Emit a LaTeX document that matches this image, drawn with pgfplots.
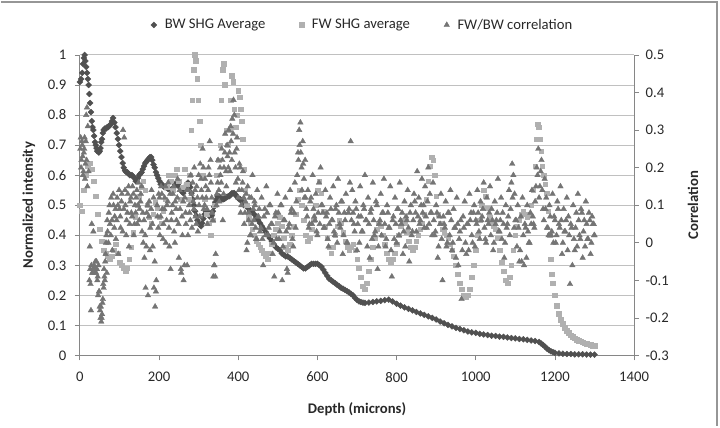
\documentclass[border=0pt]{standalone}
\usepackage{pgfplots}
\usepackage{pgfplotstable}
\pgfplotsset{compat=1.18}
\usepackage{fontspec}
\setmainfont{Carlito}

\definecolor{bwcol}{RGB}{80,80,80}
\definecolor{fwcol}{RGB}{176,176,176}
\definecolor{corcol}{RGB}{116,116,116}
\definecolor{axcol}{RGB}{134,134,134}
\definecolor{gridcol}{RGB}{192,192,192}
\definecolor{framecol}{RGB}{150,150,150}
\definecolor{txtcol}{RGB}{40,40,40}

% backward SHG, averaged and normalised
\pgfplotstableread[row sep=\\]{
x y\\
0 0.91\\ 3 0.92\\ 6 0.94\\ 8 0.97\\ 10 0.99\\ 12 1.0\\ 14 0.98\\ 16 0.96\\ 18 0.94\\ 20 0.92\\
22 0.9\\ 24 0.87\\ 26 0.84\\ 28 0.81\\ 30 0.78\\ 32 0.76\\ 34 0.75\\ 36 0.73\\ 38 0.71\\ 40 0.7\\
42 0.69\\ 44 0.68\\ 46 0.68\\ 48 0.675\\ 50 0.68\\ 52 0.69\\ 54 0.71\\ 56 0.72\\ 58 0.74\\ 60 0.75\\
63 0.755\\ 66 0.755\\ 69 0.76\\ 72 0.76\\ 75 0.765\\ 78 0.77\\ 81 0.78\\ 84 0.79\\ 87 0.775\\ 90 0.76\\
93 0.74\\ 96 0.72\\ 99 0.7\\ 102 0.68\\ 105 0.66\\ 108 0.64\\ 111 0.625\\ 114 0.615\\ 117 0.61\\ 120 0.61\\
123 0.605\\ 126 0.6\\ 129 0.6\\ 132 0.6\\ 135 0.595\\ 138 0.59\\ 141 0.58\\ 144 0.58\\ 147 0.59\\ 150 0.6\\
153 0.605\\ 156 0.61\\ 159 0.62\\ 162 0.63\\ 165 0.64\\ 168 0.645\\ 171 0.65\\ 174 0.655\\ 177 0.66\\ 180 0.66\\
183 0.65\\ 186 0.635\\ 189 0.625\\ 192 0.61\\ 195 0.6\\ 198 0.59\\ 201 0.58\\ 204 0.57\\ 207 0.57\\ 210 0.565\\
213 0.56\\ 216 0.56\\ 219 0.56\\ 222 0.555\\ 225 0.555\\ 228 0.55\\ 231 0.55\\ 234 0.555\\ 237 0.56\\ 240 0.57\\
243 0.57\\ 246 0.57\\ 249 0.565\\ 252 0.56\\ 255 0.55\\ 258 0.545\\ 261 0.54\\ 264 0.55\\ 267 0.56\\ 270 0.57\\
273 0.575\\ 276 0.57\\ 279 0.56\\ 282 0.54\\ 285 0.52\\ 288 0.5\\ 291 0.48\\ 294 0.465\\ 297 0.45\\ 300 0.44\\
303 0.435\\ 306 0.43\\ 309 0.44\\ 312 0.455\\ 315 0.47\\ 318 0.48\\ 321 0.48\\ 324 0.475\\ 327 0.465\\ 330 0.46\\
333 0.465\\ 336 0.48\\ 339 0.495\\ 342 0.51\\ 345 0.52\\ 348 0.53\\ 351 0.53\\ 354 0.525\\ 357 0.52\\ 360 0.52\\
363 0.52\\ 366 0.522\\ 369 0.525\\ 372 0.528\\ 375 0.53\\ 378 0.53\\ 381 0.535\\ 384 0.54\\ 387 0.54\\ 390 0.54\\
393 0.535\\ 396 0.53\\ 399 0.525\\ 402 0.52\\ 405 0.52\\ 408 0.515\\ 411 0.51\\ 414 0.5\\ 417 0.5\\ 420 0.5\\
425 0.49\\ 430 0.48\\ 435 0.48\\ 440 0.47\\ 445 0.46\\ 450 0.45\\ 455 0.44\\ 460 0.43\\ 465 0.42\\
470 0.41\\ 475 0.4\\ 480 0.39\\ 485 0.38\\ 490 0.37\\ 495 0.36\\ 500 0.355\\ 505 0.35\\ 510 0.34\\ 515 0.335\\
520 0.33\\ 525 0.33\\ 530 0.325\\ 535 0.32\\ 540 0.315\\ 545 0.31\\ 550 0.305\\ 555 0.3\\ 560 0.295\\ 565 0.29\\
570 0.29\\ 575 0.295\\ 580 0.3\\ 585 0.305\\ 590 0.305\\ 595 0.305\\ 600 0.305\\ 605 0.3\\ 610 0.295\\ 615 0.285\\
620 0.275\\ 625 0.265\\ 630 0.255\\ 635 0.25\\ 640 0.245\\ 645 0.24\\ 650 0.235\\ 655 0.23\\ 660 0.225\\ 665 0.222\\
670 0.218\\ 675 0.214\\ 680 0.21\\ 685 0.205\\ 690 0.2\\ 695 0.192\\ 700 0.185\\ 705 0.18\\ 710 0.178\\ 715 0.176\\
720 0.175\\ 730 0.176\\ 740 0.178\\ 750 0.18\\ 760 0.182\\ 770 0.184\\ 780 0.186\\ 790 0.18\\ 800 0.172\\ 810 0.166\\
820 0.16\\ 830 0.155\\ 840 0.15\\ 850 0.145\\ 860 0.14\\ 870 0.135\\ 880 0.13\\ 890 0.125\\ 900 0.12\\ 910 0.113\\
920 0.107\\ 930 0.102\\ 940 0.097\\ 950 0.092\\ 960 0.088\\ 970 0.084\\ 980 0.08\\ 990 0.077\\ 1000 0.075\\ 1010 0.072\\
1020 0.07\\ 1030 0.068\\ 1040 0.066\\ 1050 0.065\\ 1060 0.063\\ 1070 0.062\\ 1080 0.06\\ 1090 0.058\\ 1100 0.057\\ 1110 0.055\\
1120 0.054\\ 1130 0.052\\ 1140 0.05\\ 1150 0.048\\ 1160 0.045\\ 1165 0.04\\ 1170 0.035\\ 1175 0.029\\ 1180 0.023\\ 1185 0.018\\
1190 0.014\\ 1195 0.011\\ 1200 0.009\\ 1210 0.007\\ 1220 0.006\\ 1230 0.005\\ 1240 0.005\\ 1250 0.004\\ 1260 0.004\\ 1270 0.004\\
1280 0.003\\ 1290 0.003\\ 1300 0.003\\
}\bwdata

% forward SHG, averaged and normalised
\pgfplotstableread[row sep=\\]{
x y\\
0 0.5\\ 5 0.48\\ 10 0.55\\ 15 0.6\\ 20 0.63\\ 25 0.64\\ 30 0.62\\ 35 0.58\\ 40 0.53\\ 45 0.47\\
50 0.42\\ 55 0.38\\ 60 0.35\\ 65 0.34\\ 70 0.33\\ 75 0.32\\ 80 0.33\\ 85 0.35\\ 90 0.37\\ 95 0.34\\
100 0.31\\ 105 0.3\\ 110 0.29\\ 115 0.28\\ 120 0.29\\ 125 0.32\\ 130 0.36\\ 135 0.41\\ 140 0.46\\ 145 0.5\\
150 0.53\\ 155 0.56\\ 160 0.58\\ 165 0.55\\ 170 0.5\\ 175 0.46\\ 180 0.44\\ 185 0.47\\ 190 0.51\\ 195 0.49\\
200 0.46\\ 205 0.44\\ 210 0.48\\ 215 0.52\\ 220 0.56\\ 225 0.6\\ 230 0.58\\ 235 0.55\\ 240 0.6\\ 245 0.62\\
250 0.58\\ 255 0.52\\ 260 0.56\\ 265 0.62\\ 270 0.57\\ 275 0.52\\ 278 0.6\\ 281 0.75\\ 284 0.85\\ 287 0.95\\
290 1.0\\ 293 0.98\\ 296 0.92\\ 299 0.85\\ 302 0.78\\ 305 0.7\\ 310 0.6\\ 315 0.52\\ 320 0.47\\ 325 0.44\\
330 0.4\\ 335 0.45\\ 340 0.5\\ 345 0.6\\ 350 0.65\\ 354 0.7\\ 357 0.85\\ 360 0.95\\ 363 0.97\\ 366 0.9\\
370 0.75\\ 374 0.7\\ 378 0.75\\ 381 0.85\\ 384 0.93\\ 387 0.91\\ 390 0.82\\ 394 0.76\\ 397 0.8\\ 400 0.88\\
403 0.86\\ 406 0.82\\ 409 0.78\\ 412 0.72\\ 415 0.62\\ 418 0.55\\ 422 0.5\\ 426 0.46\\ 430 0.44\\ 435 0.42\\
440 0.4\\ 445 0.38\\ 450 0.37\\ 455 0.36\\ 460 0.35\\ 465 0.34\\ 470 0.33\\ 475 0.32\\ 480 0.34\\ 485 0.37\\
490 0.4\\ 495 0.42\\ 500 0.44\\ 505 0.46\\ 510 0.43\\ 515 0.39\\ 520 0.36\\ 525 0.35\\ 530 0.37\\ 535 0.4\\
540 0.43\\ 545 0.47\\ 550 0.52\\ 555 0.55\\ 560 0.5\\ 565 0.45\\ 570 0.4\\ 575 0.38\\ 580 0.39\\ 585 0.42\\
590 0.45\\ 595 0.5\\ 600 0.55\\ 605 0.58\\ 610 0.54\\ 615 0.48\\ 620 0.43\\ 625 0.39\\ 630 0.36\\ 635 0.34\\
640 0.36\\ 645 0.4\\ 650 0.43\\ 655 0.45\\ 660 0.44\\ 665 0.41\\ 670 0.38\\ 675 0.36\\ 680 0.35\\ 685 0.36\\
690 0.37\\ 695 0.35\\ 700 0.32\\ 705 0.29\\ 710 0.26\\ 715 0.23\\ 720 0.22\\ 725 0.24\\ 730 0.28\\ 735 0.32\\
740 0.36\\ 745 0.39\\ 750 0.42\\ 755 0.44\\ 760 0.43\\ 765 0.4\\ 770 0.37\\ 775 0.34\\ 780 0.32\\ 785 0.31\\
790 0.32\\ 795 0.34\\ 800 0.37\\ 805 0.4\\ 810 0.43\\ 815 0.45\\ 820 0.44\\ 825 0.41\\ 830 0.38\\ 835 0.36\\
840 0.35\\ 845 0.36\\ 850 0.38\\ 855 0.4\\ 860 0.42\\ 865 0.44\\ 870 0.47\\ 875 0.52\\ 880 0.58\\ 884 0.63\\
888 0.66\\ 892 0.65\\ 896 0.6\\ 900 0.53\\ 905 0.47\\ 910 0.44\\ 915 0.42\\ 920 0.41\\ 925 0.4\\ 930 0.39\\
935 0.37\\ 940 0.35\\ 945 0.33\\ 950 0.3\\ 955 0.27\\ 960 0.24\\ 965 0.22\\ 970 0.2\\ 975 0.195\\ 980 0.2\\
985 0.22\\ 990 0.26\\ 995 0.3\\ 1000 0.35\\ 1005 0.4\\ 1010 0.45\\ 1015 0.5\\ 1020 0.55\\ 1025 0.53\\ 1030 0.49\\
1035 0.46\\ 1040 0.44\\ 1045 0.43\\ 1050 0.42\\ 1055 0.39\\ 1060 0.35\\ 1065 0.31\\ 1070 0.28\\ 1075 0.25\\ 1080 0.24\\
1085 0.26\\ 1090 0.3\\ 1095 0.35\\ 1100 0.4\\ 1105 0.43\\ 1110 0.45\\ 1115 0.47\\ 1120 0.48\\ 1125 0.47\\ 1130 0.46\\
1135 0.47\\ 1140 0.5\\ 1145 0.55\\ 1150 0.63\\ 1153 0.72\\ 1156 0.77\\ 1159 0.76\\ 1162 0.72\\ 1165 0.68\\ 1168 0.63\\
1171 0.6\\ 1175 0.57\\ 1179 0.54\\ 1183 0.48\\ 1186 0.4\\ 1189 0.32\\ 1192 0.27\\ 1195 0.24\\ 1200 0.2\\ 1205 0.165\\
1210 0.14\\ 1215 0.12\\ 1220 0.105\\ 1225 0.093\\ 1230 0.083\\ 1235 0.075\\ 1240 0.068\\ 1245 0.062\\ 1250 0.057\\ 1255 0.053\\
1260 0.05\\ 1265 0.047\\ 1270 0.044\\ 1275 0.041\\ 1280 0.039\\ 1285 0.037\\ 1290 0.035\\ 1295 0.033\\ 1300 0.032\\
}\fwdata

% forward/backward correlation (secondary axis)
\pgfplotstableread[row sep=\\]{
x y\\
2 0.28\\ 4 0.22\\ 6 0.26\\ 8 0.18\\ 10 0.24\\ 12 0.28\\ 14 0.21\\ 16 0.34\\ 18 0.36\\ 20 0.31\\
22 0.19\\ 25 -0.01\\ 27 -0.11\\ 28 -0.18\\ 30 0.05\\ 32 -0.08\\ 34 0.03\\ 35 -0.07\\ 36 -0.06\\ 38 -0.08\\
40 -0.07\\ 42 -0.05\\ 44 -0.1\\ 46 -0.14\\ 48 -0.13\\ 50 -0.17\\ 52 -0.2\\ 54 -0.21\\ 56 -0.19\\ 58 -0.15\\
60 -0.12\\ 62 -0.09\\ 64 -0.05\\ 66 0.0\\ 68 -0.08\\ 70 0.03\\ 73 0.08\\ 76 0.05\\ 79 0.12\\ 82 -0.02\\
85 0.1\\ 88 0.07\\ 91 0.01\\ 94 0.12\\ 97 -0.03\\ 100 0.09\\ 103 0.04\\ 106 0.13\\ 109 0.3\\ 112 0.28\\
115 0.1\\ 118 0.06\\ 121 0.13\\ 124 -0.01\\ 127 0.11\\ 130 0.08\\ 133 0.15\\ 136 0.02\\ 139 0.1\\ 142 0.12\\
145 0.05\\ 148 0.16\\ 151 0.09\\ 154 0.13\\ 157 0.03\\ 160 0.0\\ 163 -0.04\\ 166 -0.12\\ 169 0.08\\ 172 -0.14\\
175 0.11\\ 178 0.04\\ 181 0.14\\ 184 -0.01\\ 187 -0.12\\ 190 -0.17\\ 193 -0.1\\ 196 0.07\\ 199 0.13\\ 202 0.02\\
205 0.15\\ 208 0.09\\ 211 0.05\\ 214 0.12\\ 217 0.0\\ 220 0.1\\ 223 0.16\\ 226 -0.01\\ 229 -0.07\\ 232 0.08\\
235 0.13\\ 238 0.03\\ 241 0.11\\ 244 0.06\\ 247 0.17\\ 250 -0.04\\ 253 0.09\\ 256 -0.08\\ 259 0.02\\ 262 -0.1\\
265 0.12\\ 268 0.05\\ 271 -0.06\\ 274 0.14\\ 277 0.08\\ 280 0.18\\ 283 0.04\\ 286 0.11\\ 289 0.2\\ 292 0.07\\
295 0.15\\ 298 0.03\\ 301 0.1\\ 304 0.21\\ 307 0.14\\ 310 0.25\\ 313 0.09\\ 316 0.17\\ 319 0.12\\ 322 0.05\\
325 0.2\\ 328 0.27\\ 331 0.16\\ 334 0.08\\ 337 -0.09\\ 340 -0.06\\ 343 -0.03\\ 346 0.13\\ 349 0.22\\ 352 0.11\\
355 0.18\\ 358 0.25\\ 361 0.06\\ 364 0.2\\ 367 0.29\\ 370 0.15\\ 373 0.23\\ 376 0.3\\ 379 0.19\\ 382 0.27\\
385 0.33\\ 388 0.38\\ 391 0.24\\ 394 0.16\\ 397 0.28\\ 400 0.12\\ 403 0.21\\ 406 0.08\\ 409 0.14\\ 412 0.19\\
415 0.05\\ 418 0.11\\ 421 -0.02\\ 424 0.15\\ 427 0.08\\ 430 0.02\\ 433 0.12\\ 436 0.18\\ 439 0.06\\ 442 0.1\\
445 0.01\\ 448 0.14\\ 451 0.07\\ 455 0.03\\ 459 0.12\\ 463 -0.06\\ 467 0.09\\ 471 0.15\\ 475 0.02\\ 479 0.1\\
483 0.05\\ 487 -0.03\\ 491 -0.09\\ 495 0.08\\ 499 0.13\\ 503 0.01\\ 507 0.1\\ 511 -0.1\\ 515 0.06\\ 519 0.12\\
523 -0.07\\ 527 0.04\\ 531 0.14\\ 535 0.09\\ 539 -0.01\\ 543 0.16\\ 547 0.11\\ 551 0.24\\ 554 0.3\\ 557 0.32\\
560 0.2\\ 563 0.27\\ 566 0.17\\ 569 0.22\\ 572 0.09\\ 576 0.14\\ 580 0.05\\ 584 0.12\\ 588 0.18\\ 592 0.07\\
596 0.13\\ 600 0.02\\ 604 0.16\\ 608 0.2\\ 612 0.1\\ 616 0.04\\ 620 0.14\\ 624 0.08\\ 628 -0.01\\ 632 0.12\\
636 0.06\\ 640 0.15\\ 644 0.02\\ 648 0.1\\ 652 0.17\\ 656 0.05\\ 660 0.11\\ 664 -0.03\\ 668 0.08\\ 672 0.13\\
676 0.0\\ 680 0.09\\ 684 0.27\\ 688 0.14\\ 692 0.05\\ 696 0.11\\ 700 -0.02\\ 704 0.07\\ 708 0.15\\ 712 0.03\\
716 0.1\\ 720 0.18\\ 724 0.06\\ 728 0.12\\ 732 -0.04\\ 736 0.09\\ 740 0.16\\ 744 0.02\\ 748 0.11\\ 752 -0.07\\
756 0.05\\ 760 0.13\\ 764 0.08\\ 768 0.17\\ 772 -0.01\\ 776 0.1\\ 780 0.04\\ 784 0.15\\ 788 -0.09\\ 792 0.07\\
796 0.12\\ 800 0.0\\ 804 0.09\\ 808 0.16\\ 812 0.05\\ 816 -0.03\\ 820 0.11\\ 824 0.07\\ 828 0.14\\ 832 -0.05\\
836 0.1\\ 840 0.03\\ 844 0.13\\ 848 0.08\\ 852 0.19\\ 856 0.12\\ 860 0.06\\ 864 0.17\\ 868 0.1\\ 872 0.15\\
876 0.04\\ 880 0.2\\ 884 0.13\\ 888 0.08\\ 892 0.16\\ 896 0.02\\ 900 0.1\\ 904 -0.04\\ 908 0.07\\ 912 0.13\\
916 -0.1\\ 920 0.05\\ 924 0.11\\ 928 0.0\\ 932 0.08\\ 936 0.14\\ 940 -0.02\\ 944 0.09\\ 948 0.04\\ 952 0.12\\
956 -0.06\\ 960 0.03\\ 964 -0.15\\ 968 0.07\\ 972 0.11\\ 976 -0.03\\ 980 0.05\\ 984 0.13\\ 988 0.08\\ 992 0.0\\
996 0.1\\ 1000 0.06\\ 1004 0.14\\ 1008 0.03\\ 1012 0.11\\ 1016 0.07\\ 1020 0.16\\ 1024 0.01\\ 1028 0.12\\ 1032 0.05\\
1036 0.15\\ 1040 0.09\\ 1044 -0.02\\ 1048 0.11\\ 1052 0.06\\ 1056 0.17\\ 1060 0.03\\ 1064 0.12\\ 1068 0.08\\ 1072 -0.04\\
1076 0.1\\ 1080 0.05\\ 1084 0.14\\ 1088 0.09\\ 1092 0.21\\ 1095 0.18\\ 1098 0.13\\ 1102 0.06\\ 1106 0.1\\ 1110 -0.05\\
1114 0.07\\ 1118 0.12\\ 1122 -0.06\\ 1126 0.04\\ 1130 0.1\\ 1134 0.0\\ 1138 0.08\\ 1142 0.14\\ 1146 0.05\\ 1150 0.11\\
1154 0.2\\ 1158 0.25\\ 1162 0.15\\ 1166 0.22\\ 1170 0.09\\ 1174 0.17\\ 1178 0.12\\ 1182 0.04\\ 1186 0.1\\ 1190 0.02\\
1194 0.13\\ 1198 0.07\\ 1202 0.0\\ 1206 0.11\\ 1210 0.05\\ 1214 0.15\\ 1218 -0.03\\ 1222 0.09\\ 1226 0.03\\ 1230 0.12\\
1234 0.07\\ 1238 -0.11\\ 1242 0.04\\ 1246 0.1\\ 1250 -0.02\\ 1254 0.08\\ 1258 0.13\\ 1262 0.02\\ 1266 0.09\\ 1270 -0.04\\
1274 0.06\\ 1278 0.11\\ 1282 0.01\\ 1286 0.08\\ 1290 -0.03\\ 1294 0.07\\ 1298 0.05\\ 1300 0.02\\
1 0.25\\ 3 0.2\\ 5 0.27\\ 7 0.23\\ 9 0.19\\ 11 0.25\\ 13 0.17\\ 15 0.27\\ 17 0.22\\ 19 0.15\\
24 -0.1\\ 26 -0.07\\ 29 -0.06\\ 31 -0.08\\ 33 -0.07\\ 37 -0.07\\ 39 -0.05\\ 41 -0.08\\ 43 -0.07\\ 45 -0.09\\
47 -0.06\\ 49 -0.13\\ 51 -0.18\\ 53 -0.17\\ 55 -0.2\\ 57 -0.16\\ 59 -0.11\\ 61 -0.07\\ 63 -0.1\\ 65 -0.03\\
67 0.02\\ 69 0.06\\ 72 0.0\\ 75 0.1\\ 78 0.02\\ 81 0.06\\ 84 0.13\\ 87 0.04\\ 90 0.09\\ 93 0.06\\
96 0.1\\ 99 0.14\\ 102 0.07\\ 105 0.11\\ 108 0.03\\ 111 0.09\\ 114 0.14\\ 117 0.02\\ 120 0.08\\ 123 0.15\\
126 0.05\\ 129 0.12\\ 132 0.07\\ 135 0.13\\ 138 0.05\\ 141 0.08\\ 144 0.14\\ 147 0.1\\ 150 0.06\\ 153 0.11\\
156 0.15\\ 159 0.08\\ 162 0.06\\ 165 0.02\\ 168 -0.01\\ 171 0.1\\ 174 0.07\\ 177 -0.02\\ 180 0.09\\ 183 0.05\\
186 0.12\\ 189 -0.05\\ 192 -0.13\\ 195 0.1\\ 198 0.04\\ 201 0.12\\ 204 0.07\\ 207 0.13\\ 210 0.01\\ 213 0.09\\
216 0.15\\ 219 0.06\\ 222 0.11\\ 225 0.04\\ 228 0.13\\ 231 0.06\\ 234 0.1\\ 237 0.15\\ 240 0.0\\ 243 0.09\\
246 0.12\\ 249 0.05\\ 252 0.14\\ 255 -0.07\\ 258 0.07\\ 261 0.11\\ 264 -0.06\\ 267 0.08\\ 270 0.14\\ 273 0.02\\
276 0.1\\ 279 0.06\\ 282 0.13\\ 285 0.16\\ 288 0.09\\ 291 0.14\\ 294 0.05\\ 297 0.12\\ 300 0.18\\ 303 0.07\\
306 0.17\\ 309 0.12\\ 312 0.2\\ 315 0.1\\ 318 0.15\\ 321 0.09\\ 324 0.14\\ 327 0.18\\ 330 0.22\\ 333 0.12\\
336 0.06\\ 339 -0.06\\ 342 -0.09\\ 345 0.1\\ 348 0.16\\ 351 0.14\\ 354 0.2\\ 357 0.16\\ 360 0.22\\ 363 0.13\\
366 0.24\\ 369 0.19\\ 372 0.26\\ 375 0.2\\ 378 0.24\\ 381 0.31\\ 384 0.22\\ 387 0.29\\ 390 0.34\\ 393 0.2\\
396 0.25\\ 399 0.17\\ 402 0.14\\ 405 0.2\\ 408 0.1\\ 411 0.16\\ 414 0.12\\ 417 0.08\\ 420 0.13\\ 423 0.0\\
426 0.06\\ 429 0.12\\ 432 0.02\\ 435 0.05\\ 438 0.09\\ 441 0.11\\ 444 0.04\\ 447 0.01\\ 450 0.07\\ 453 0.09\\
457 0.04\\ 461 0.01\\ 465 0.07\\ 469 0.02\\ 473 0.08\\ 477 0.04\\ 481 0.1\\ 485 0.05\\ 489 0.0\\ 493 0.07\\
497 0.01\\ 501 0.08\\ 505 0.03\\ 509 0.1\\ 513 -0.01\\ 517 0.06\\ 521 0.03\\ 525 -0.08\\ 529 0.05\\ 533 0.08\\
537 0.01\\ 541 0.08\\ 545 0.04\\ 549 0.18\\ 552 0.22\\ 555 0.26\\ 558 0.24\\ 561 0.14\\ 564 0.21\\ 567 0.12\\
570 0.12\\ 574 0.07\\ 578 0.04\\ 582 0.11\\ 586 0.05\\ 590 0.09\\ 594 0.06\\ 598 0.03\\ 602 0.08\\ 606 0.05\\
610 0.1\\ 614 0.08\\ 618 0.04\\ 622 0.07\\ 626 0.01\\ 630 0.05\\ 634 0.09\\ 638 0.06\\ 642 0.03\\ 646 0.09\\
650 0.0\\ 654 0.08\\ 658 0.04\\ 662 0.11\\ 666 0.02\\ 670 0.06\\ 674 0.0\\ 678 0.08\\ 682 0.16\\ 686 0.06\\
690 0.08\\ 694 0.03\\ 698 0.09\\ 702 0.05\\ 706 0.0\\ 710 0.07\\ 714 0.03\\ 718 0.09\\ 722 0.06\\ 726 -0.01\\
730 0.05\\ 734 0.08\\ 738 0.01\\ 742 0.06\\ 746 0.03\\ 750 0.1\\ 754 -0.01\\ 758 0.06\\ 762 0.02\\ 766 0.08\\
770 0.05\\ 774 0.01\\ 778 0.08\\ 782 0.04\\ 786 -0.02\\ 790 0.06\\ 794 0.01\\ 798 0.05\\ 802 0.09\\ 806 0.02\\
810 0.06\\ 814 0.08\\ 818 0.03\\ 822 -0.01\\ 826 0.06\\ 830 0.04\\ 834 0.08\\ 838 0.02\\ 842 0.06\\ 846 0.11\\
850 0.03\\ 854 0.07\\ 858 0.05\\ 862 0.1\\ 866 0.08\\ 870 0.04\\ 874 0.07\\ 878 0.11\\ 882 0.05\\ 886 0.08\\
890 0.02\\ 894 0.06\\ 898 0.03\\ 902 0.08\\ 906 -0.01\\ 910 0.05\\ 914 0.01\\ 918 0.07\\ 922 0.04\\ 926 -0.01\\
930 0.08\\ 934 0.02\\ 938 0.06\\ 942 0.0\\ 946 0.04\\ 950 -0.04\\ 954 0.05\\ 958 0.01\\ 962 0.06\\ 966 -0.02\\
970 0.04\\ 974 0.0\\ 978 0.05\\ 982 -0.02\\ 986 0.06\\ 990 0.02\\ 994 0.08\\ 998 -0.01\\ 1002 0.05\\ 1006 0.08\\
1010 0.01\\ 1014 0.06\\ 1018 0.09\\ 1022 0.04\\ 1026 0.0\\ 1030 0.06\\ 1034 0.08\\ 1038 0.02\\ 1042 0.06\\ 1046 0.0\\
1050 0.05\\ 1054 0.08\\ 1058 0.03\\ 1062 0.06\\ 1066 0.01\\ 1070 0.05\\ 1074 0.0\\ 1078 0.04\\ 1082 0.07\\ 1086 0.02\\
1090 0.16\\ 1093 0.12\\ 1097 0.04\\ 1100 0.06\\ 1104 -0.01\\ 1108 0.04\\ 1112 -0.02\\ 1116 -0.05\\ 1120 0.02\\ 1124 0.05\\
1128 -0.04\\ 1132 0.03\\ 1136 0.0\\ 1140 0.05\\ 1144 0.07\\ 1148 0.04\\ 1152 0.15\\ 1156 0.18\\ 1160 0.12\\ 1164 0.19\\
1168 0.14\\ 1172 0.06\\ 1176 0.09\\ 1180 0.04\\ 1184 0.02\\ 1188 0.07\\ 1192 0.03\\ 1196 0.0\\ 1200 0.06\\ 1204 0.02\\
1208 0.09\\ 1212 0.04\\ 1216 0.06\\ 1220 0.0\\ 1224 0.03\\ 1228 0.06\\ 1232 -0.02\\ 1236 0.02\\ 1240 0.05\\ 1244 -0.06\\
1248 0.01\\ 1252 0.04\\ 1256 -0.01\\ 1260 0.06\\ 1264 0.01\\ 1268 0.08\\ 1272 0.03\\ 1276 -0.01\\ 1280 0.05\\ 1284 0.01\\
1288 0.06\\ 1292 0.0\\ 1296 0.05\\ 1299 0.02\\
}\cordata

\pgfplotsset{
  chartbase/.style={
    at={(0pt,0pt)}, anchor=south west,
    scale only axis, width=555pt, height=301pt,
    xmin=0, xmax=1400, clip=false,
    font=\fontsize{14.7}{17}\selectfont,
    tick align=outside, major tick length=5pt,
    every tick/.style={draw=axcol, line width=0.8pt},
    axis line style={draw=axcol, line width=0.8pt},
    tick label style={text=txtcol},
    /pgf/number format/assume math mode=true,
    /pgf/number format/fixed,
    /pgf/number format/1000 sep={},
  },
}

\begin{document}
\begin{tikzpicture}
\begin{axis}[chartbase,
  ymin=0, ymax=1,
  axis x line*=bottom, axis y line*=left,
  xtick={0,200,400,600,800,1000,1200,1400},
  ytick={0,0.1,0.2,0.3,0.4,0.5,0.6,0.7,0.8,0.9,1},
  yticklabels={0,0.1,0.2,0.3,0.4,0.5,0.6,0.7,0.8,0.9,1},
  ymajorgrids, grid style={draw=gridcol, line width=0.9pt},
  xticklabel style={yshift=-8pt},
  yticklabel style={xshift=-5pt},
  xlabel={\bfseries Depth (microns)},
  ylabel={\bfseries Normalized intensity},
  xlabel style={at={(axis description cs:0.5,-0.1794)}, anchor=center, text=txtcol},
  ylabel style={at={(axis description cs:-0.0919,0.5)}, anchor=center, text=txtcol},
  legend columns=3,
  legend style={at={(axis description cs:0.51,1.0997)}, anchor=center, draw=none,
    fill=none, text=txtcol, font=\fontsize{14.7}{17}\selectfont,
    /tikz/every odd column/.append style={column sep=6pt},
    /tikz/every even column/.append style={column sep=32pt}},
  legend cell align=left,
]
\addplot[only marks, mark=square*, mark size=2.1pt, color=bwcol,
  mark options={rotate=45}] table[x=x, y=y] {\bwdata};
\addlegendentry{BW SHG Average}
\addplot[only marks, mark=square*, mark size=2.3pt, color=fwcol] table[x=x, y=y] {\fwdata};
\addlegendentry{FW SHG average}
\addlegendimage{only marks, mark=triangle*, mark size=3.2pt, color=corcol}
\addlegendentry{FW/BW correlation}
\end{axis}

\begin{axis}[chartbase,
  ymin=-0.3, ymax=0.5,
  axis x line=none, axis y line*=right,
  ytick={-0.3,-0.2,-0.1,0,0.1,0.2,0.3,0.4,0.5},
  yticklabels={-0.3,-0.2,-0.1,0,0.1,0.2,0.3,0.4,0.5},
  yticklabel style={xshift=3pt},
  ylabel={\bfseries Correlation},
  ylabel style={at={(axis description cs:1.1063,0.5)}, anchor=center, rotate=0, text=txtcol},
]
\addplot[only marks, mark=triangle*, mark size=3.2pt, color=corcol] table[x=x, y=y] {\cordata};
\end{axis}

\draw[draw=framecol, line width=2pt] (-79pt,353.5pt) -- (638pt,353.5pt) -- (638pt,-71pt);
\path[use as bounding box] (-79pt,-71pt) rectangle (641pt,356pt);
\end{tikzpicture}
\end{document}
